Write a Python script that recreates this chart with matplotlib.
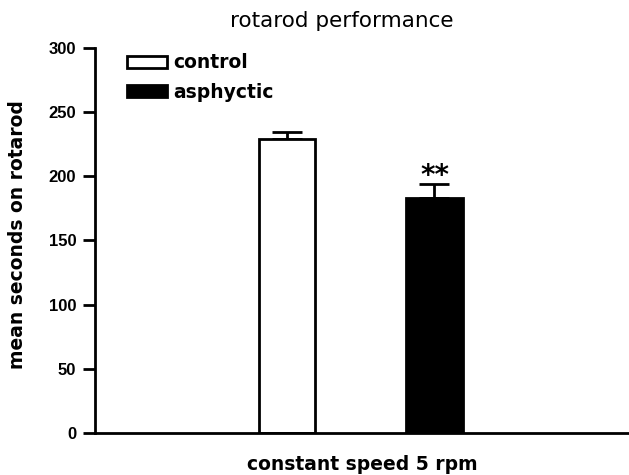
import matplotlib
matplotlib.use("Agg")
import matplotlib.pyplot as plt
from matplotlib.patches import Patch

groups = ["control", "asphyctic"]
means = [229, 183]
sems = [5.5, 11]
colors = ["white", "black"]
positions = [1, 2]

plt.rcParams['font.family'] = ['DejaVu Sans']

fig = plt.figure(figsize=(6.29, 4.75), dpi=100)
ax = fig.add_axes([95 / 629, 1 - 433 / 475, 1 - 95 / 629, (433 - 48) / 475])

# bars with only the upper error bar
ax.bar(positions, means, width=0.386, color=colors, edgecolor="black",
       linewidth=2, zorder=2)
ax.errorbar(positions, means, yerr=[[0, 0], sems], fmt="none", ecolor="black",
            elinewidth=2, capsize=11, capthick=2, zorder=1)

ax.text(positions[1], means[1] + sems[1] - 4.5, "**", ha="center", va="bottom",
        fontsize=20, fontweight="bold")

ax.set_xlim(-0.302, 3.319)
ax.set_ylim(0, 300)
ax.set_yticks([0, 50, 100, 150, 200, 250, 300])
ax.set_xticks([])

for s in ["top", "right"]:
    ax.spines[s].set_visible(False)
for s in ["left", "bottom"]:
    ax.spines[s].set_linewidth(2)
ax.tick_params(axis="y", length=8.5, width=2, direction="out", pad=5)
for lbl in ax.get_yticklabels():
    lbl.set_fontweight("bold")
    lbl.set_fontsize(12)
    lbl.set_family(["Liberation Sans", "DejaVu Sans"])

ax.set_ylabel("mean seconds on rotarod", fontsize=13.5, fontweight="bold")
ax.yaxis.set_label_coords(-0.127, 0.516)
ax.set_xlabel("constant speed 5 rpm", fontsize=13.5, fontweight="bold",
              labelpad=16)
fig.text(342 / 629, 1 - 21 / 475, "rotarod performance", ha="center",
         va="center", fontsize=15.5)

handles = [Patch(facecolor=c, edgecolor="black", linewidth=2) for c in colors]
leg = ax.legend(handles, groups, loc="upper left", bbox_to_anchor=(0.029, 1.03),
                frameon=False, handlelength=2.1, handleheight=0.64,
                handletextpad=0.35, labelspacing=0.55,
                prop={"weight": "bold", "size": 13.5})

fig.savefig("out.png", dpi=100)
